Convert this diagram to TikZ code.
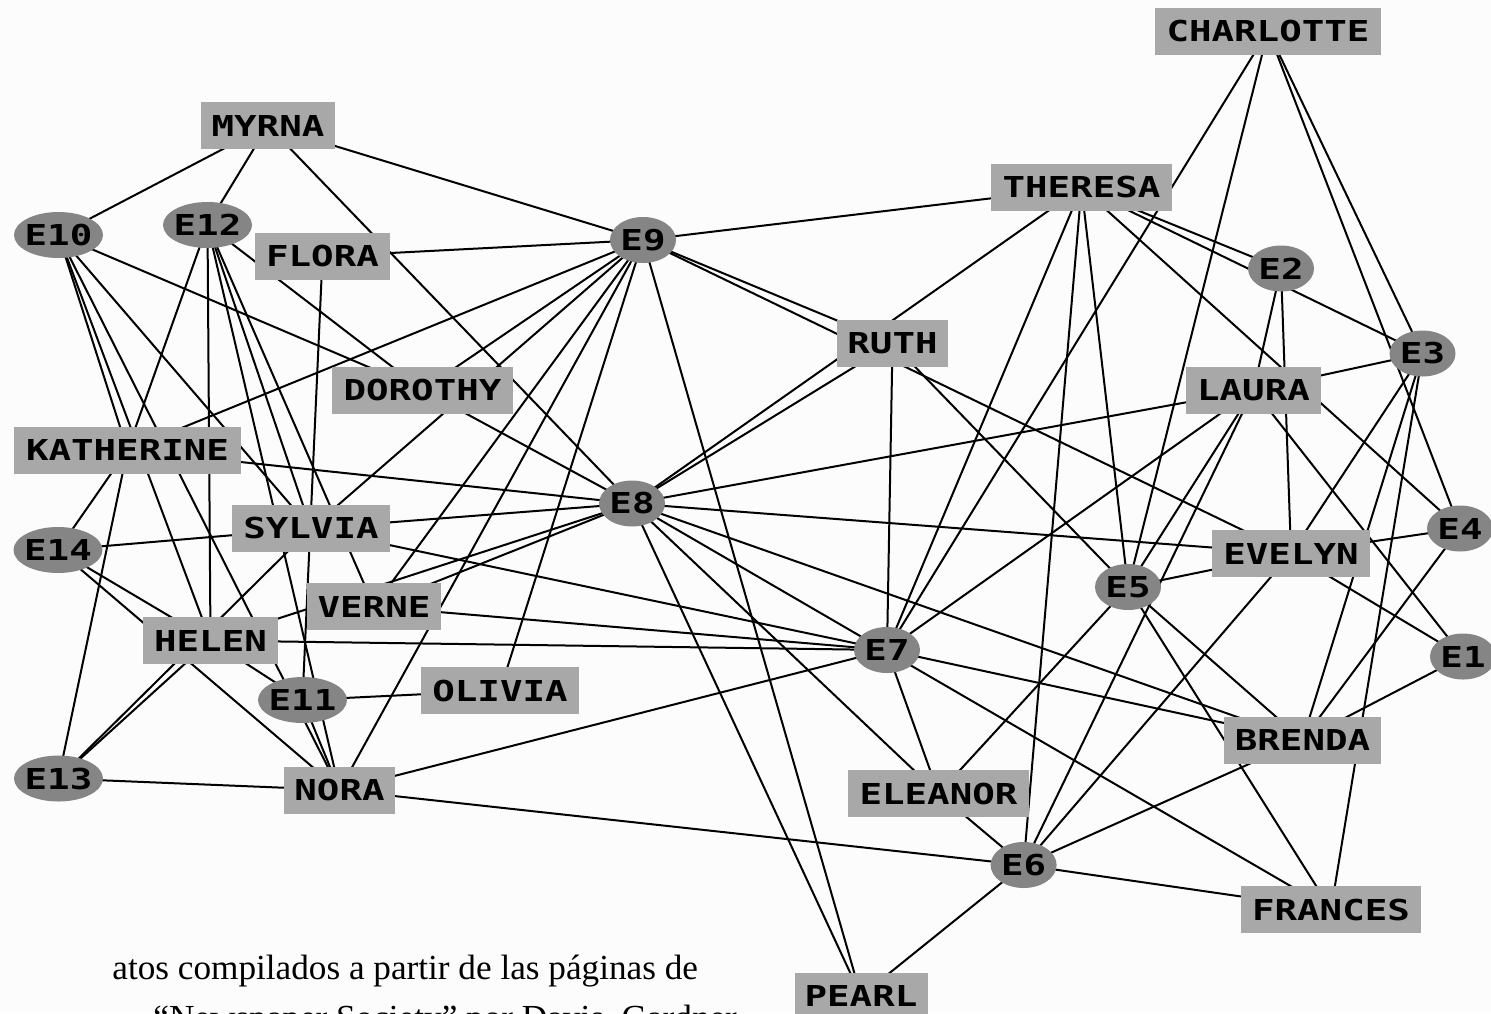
\documentclass[tikz,border=0pt]{standalone}
\usepackage{fontspec}
\setmainfont{Liberation Serif}
\newfontfamily\pixfont{DejaVu Sans Mono}[FakeStretch=1.3]
\usetikzlibrary{shapes.geometric}
\pgfdeclarelayer{bg}
\pgfsetlayers{bg,main}
\definecolor{boxgray}{HTML}{A8A8A8}
\definecolor{evgray}{HTML}{858585}
\definecolor{paper}{HTML}{FCFCFC}
\tikzset{
  pixtext/.style={font=\pixfont\bfseries\fontsize{14.4}{14.4}\selectfont},
  woman/.style={pixtext, rectangle, fill=boxgray, inner sep=0pt, minimum height=23.5pt, minimum width=#1},
  event/.style={pixtext, ellipse, fill=evgray, inner sep=0pt, minimum height=23pt, minimum width=#1},
  event/.default=33pt,
  tie/.style={line width=1pt, black},
  caption/.style={anchor=base west, inner sep=0pt, font=\fontsize{17.6}{17.6}\selectfont}
}
\begin{document}
\begin{tikzpicture}[x=0.5pt, y=-0.5pt]
\useasboundingbox (0,0) rectangle (1491,1013);
\clip (0,0) rectangle (1491,1013);
% women
\node[woman=113pt] (charlotte) at (1268,31) {CHARLOTTE};
\node[woman=67pt] (myrna) at (268,125.5) {MYRNA};
\node[woman=90.5pt] (theresa) at (1081.5,187.5) {THERESA};
\node[woman=67.5pt] (flora) at (322.5,256.5) {FLORA};
\node[woman=55.5pt] (ruth) at (892.5,343.5) {RUTH};
\node[woman=90.5pt] (dorothy) at (422.5,390) {DOROTHY};
\node[woman=67.5pt] (laura) at (1253.5,390) {LAURA};
\node[woman=113.5pt] (katherine) at (127.5,450) {KATHERINE};
\node[woman=79pt] (sylvia) at (311,528.5) {SYLVIA};
\node[woman=79pt] (evelyn) at (1291,553.5) {EVELYN};
\node[woman=67pt] (verne) at (374,606.5) {VERNE};
\node[woman=67.5pt] (helen) at (210.5,640.5) {HELEN};
\node[woman=79pt] (olivia) at (500,690.5) {OLIVIA};
\node[woman=78.5pt] (brenda) at (1302.5,740) {BRENDA};
\node[woman=55.5pt] (nora) at (339.5,790) {NORA};
\node[woman=90.5pt] (eleanor) at (938.5,793.5) {ELEANOR};
\node[woman=90pt] (frances) at (1331,909.5) {FRANCES};
\node[woman=66.5pt] (pearl) at (861,996) {PEARL};
% events
\node[event=44.5pt] (e10) at (58.5,235) {\makebox[0pt]{E10}};
\node[event=44.5pt] (e12) at (207.5,225) {\makebox[0pt]{E12}};
\node[event] (e9) at (643,240) {\makebox[0pt]{E9}};
\node[event] (e2) at (1281,268.5) {\makebox[0pt]{E2}};
\node[event] (e3) at (1422.5,353.5) {\makebox[0pt]{E3}};
\node[event] (e8) at (632,503.5) {\makebox[0pt]{E8}};
\node[event] (e4) at (1460,528.5) {\makebox[0pt]{E4}};
\node[event=44.5pt] (e14) at (58,550) {\makebox[0pt]{E14}};
\node[event] (e5) at (1128,587) {\makebox[0pt]{E5}};
\node[event] (e7) at (887,650) {\makebox[0pt]{E7}};
\node[event] (e1) at (1463,656.5) {\makebox[0pt]{E1}};
\node[event=44.5pt] (e11) at (302.5,700) {\makebox[0pt]{E11}};
\node[event=44.5pt] (e13) at (58.5,778.5) {\makebox[0pt]{E13}};
\node[event] (e6) at (1023.6,865) {\makebox[0pt]{E6}};
% ties
\begin{pgfonlayer}{bg}
\fill[paper] (0,0) rectangle (1491,1013);
\foreach \w/\evs in {
  evelyn/{e1,e2,e3,e4,e5,e6,e8,e9},
  laura/{e1,e2,e3,e5,e6,e7,e8},
  theresa/{e2,e3,e4,e5,e6,e7,e8,e9},
  brenda/{e1,e3,e4,e5,e6,e7,e8},
  charlotte/{e3,e4,e5,e7},
  frances/{e3,e5,e6,e8},
  eleanor/{e5,e6,e7,e8},
  pearl/{e6,e8,e9},
  ruth/{e5,e7,e8,e9},
  verne/{e7,e8,e9,e12},
  myrna/{e8,e9,e10,e12},
  katherine/{e8,e9,e10,e12,e13,e14},
  sylvia/{e7,e8,e9,e10,e12,e13,e14},
  nora/{e6,e7,e9,e10,e11,e12,e13,e14},
  helen/{e7,e8,e10,e11,e12,e13,e14},
  dorothy/{e8,e9,e10,e12},
  olivia/{e9,e11},
  flora/{e9,e11}}{
  \foreach \e in \evs {\draw[tie] (\w.center) -- (\e.center);}
}
\end{pgfonlayer}
% caption
\node[caption] (cap1) at (112,979) {atos compilados a partir de las páginas de};
\node[caption] (cap2) at (153,1029) {“Newspaper Society” por Davis, Gardner};
\end{tikzpicture}
\end{document}
